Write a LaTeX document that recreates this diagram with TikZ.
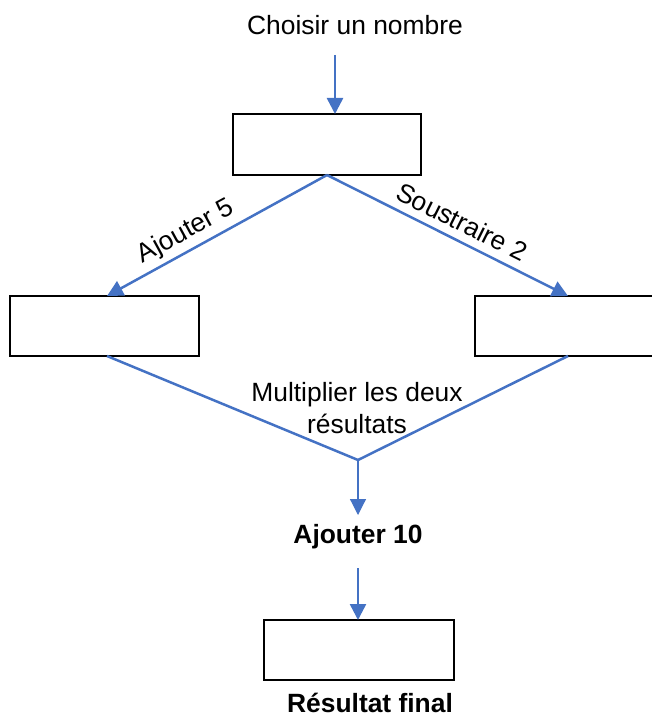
\documentclass[tikz,border=0pt]{standalone}
\usepackage{fontspec}
\setmainfont{Liberation Sans}
\usetikzlibrary{arrows.meta}
\definecolor{lineblue}{HTML}{4472C4}
\begin{document}
\begin{tikzpicture}[x=0.5pt,y=-0.5pt,
  box/.style={draw=black,line width=1.1pt,fill=white},
  conn/.style={draw=lineblue,line width=1.25pt},
  arr/.style={conn,-{Triangle[width=8pt,length=8pt]}},
  lbl/.style={font=\fontsize{13.2pt}{15.8pt}\selectfont,inner sep=0pt},
  blbl/.style={lbl,font=\fontsize{13.2pt}{15.8pt}\selectfont\bfseries}]
\useasboundingbox (0,0) rectangle (652,717);
\clip (0,0) rectangle (652,717);
% boxes
\path[box] (233,114) rectangle (421,175);
\coordinate (topN) at (335,114);
\coordinate (topS) at (327,175);
\path[box] (10,296) rectangle (199,356);
\coordinate (leftN) at (107,296);
\coordinate (leftS) at (107,356);
\path[box] (475,296) rectangle (670,356);
\coordinate (rightN) at (568,296);
\coordinate (rightS) at (568,356);
\path[box] (264,620) rectangle (454,680);
\coordinate (botN) at (358,620);
% texts
\node[lbl] (choisir) at (355,25) {Choisir un nombre};
\coordinate (choisirS) at (335,55);
\node[lbl,rotate=28.6] (aj5) at (186,232) {Ajouter 5};
\node[lbl,rotate=-26.5] (sous2) at (462,222) {Soustraire 2};
\node[lbl,align=center] (mult) at (357,408) {Multiplier les deux\\résultats};
\coordinate (merge) at (358,460);
\node[blbl] (aj10) at (358,537) {Ajouter 10};
\coordinate (aj10N) at (358,515);
\coordinate (aj10S) at (358,568);
\node[blbl] (final) at (370,703) {Résultat final};
% connectors
\draw[arr] (choisirS) -- (topN);
\draw[arr] (topS) -- (leftN);
\draw[arr] (topS) -- (rightN);
\draw[conn] (leftS) -- (merge) -- (rightS);
\draw[arr,line width=0.6pt] (merge) -- (aj10N);
\draw[arr] (aj10S) -- (botN);
\end{tikzpicture}
\end{document}
